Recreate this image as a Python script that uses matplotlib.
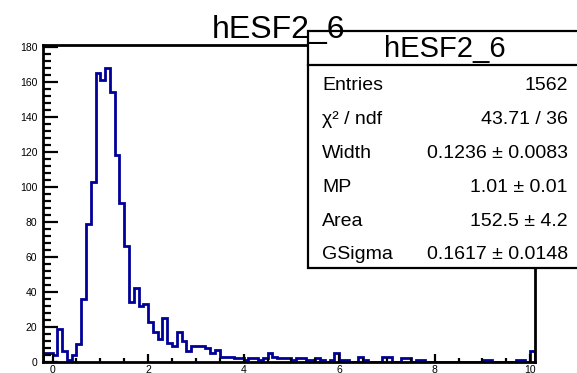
import numpy as np
import matplotlib
matplotlib.use("Agg")
import matplotlib.pyplot as plt
from matplotlib.patches import Rectangle
from matplotlib.lines import Line2D
from matplotlib.ticker import MultipleLocator

plt.rcParams['font.family'] = ['Liberation Sans', 'DejaVu Sans']

# histogram hESF2_6: 103 bins of 0.1 from -0.2 to 10.1
x_min, bin_w = -0.2, 0.1
counts = [5, 5, 4, 19, 6, 1, 4, 10, 36, 79,
          103, 165, 161, 168, 154, 118, 91, 66, 34, 42,
          32, 33, 23, 17, 13, 25, 11, 9, 17, 12,
          6, 9, 9, 9, 8, 5, 7, 3, 3, 3,
          2, 2, 1, 2, 2, 1, 2, 5, 3, 2,
          2, 2, 1, 2, 2, 1, 1, 2, 1, 0,
          1, 5, 1, 1, 0, 0, 3, 1, 0, 0,
          0, 3, 3, 0, 0, 2, 2, 0, 1, 1,
          0, 0, 0, 0, 0, 0, 0, 0, 0, 0,
          0, 0, 1, 1, 0, 0, 0, 0, 0, 1,
          1, 0, 6]
edges = x_min + bin_w * np.arange(len(counts) + 1)

stats_labels = ["Entries", "χ² / ndf", "Width", "MP", "Area", "GSigma"]
stats_values = ["1562", "43.71 / 36", "0.1236 ± 0.0083", "1.01 ± 0.01",
                "152.5 ± 4.2", "0.1617 ± 0.0148"]
hist_name = "hESF2_6"

W, H = 577, 373
fig = plt.figure(figsize=(W / 100, H / 100), dpi=100)
ax = fig.add_axes([43 / W, 1 - 362 / H, (535 - 43) / W, (362 - 45) / H])

ax.stairs(counts, edges, color='#000099', linewidth=2.0)
ax.set_xlim(edges[0], edges[-1])
ax.set_ylim(0, 181)

for s in ax.spines.values():
    s.set_linewidth(2.0)

ax.xaxis.set_major_locator(MultipleLocator(2))
ax.xaxis.set_minor_locator(MultipleLocator(0.5))
ax.yaxis.set_major_locator(MultipleLocator(20))
ax.yaxis.set_minor_locator(MultipleLocator(4))
ax.tick_params(which='both', direction='in', top=False, right=False, width=1.6, labelsize=7.5)
ax.tick_params(axis='y', which='major', length=11, pad=4)
ax.tick_params(axis='y', which='minor', length=6)
ax.tick_params(axis='x', which='major', length=6, pad=2)
ax.tick_params(axis='x', which='minor', length=3)

# stats box
bx0, btop, bdiv, bbot = 308 / W, 1 - 31 / H, 1 - 65 / H, 1 - 268 / H
fig.patches.append(Rectangle((bx0, bbot), 1.05 - bx0, btop - bbot, transform=fig.transFigure,
                             facecolor='white', edgecolor='black', linewidth=1.6, zorder=5))
fig.lines.append(Line2D([bx0, 1.0], [bdiv, bdiv], transform=fig.transFigure,
                        color='black', linewidth=1.6, zorder=6))
fig.text(445 / W, 1 - 57 / H, hist_name, fontsize=21, ha='center', va='baseline', zorder=7)

baselines = [90, 124, 158, 192, 226, 259]
for lab, val, yb in zip(stats_labels, stats_values, baselines):
    fig.text(322 / W, 1 - yb / H, lab, fontsize=14, ha='left', va='baseline', zorder=7)
    fig.text(568 / W, 1 - yb / H, val, fontsize=14, ha='right', va='baseline', zorder=7)

# title drawn over the stats box
fig.text(279 / W, 1 - 38 / H, hist_name, fontsize=23, ha='center', va='baseline', zorder=10)

fig.savefig("out.png", dpi=100)
